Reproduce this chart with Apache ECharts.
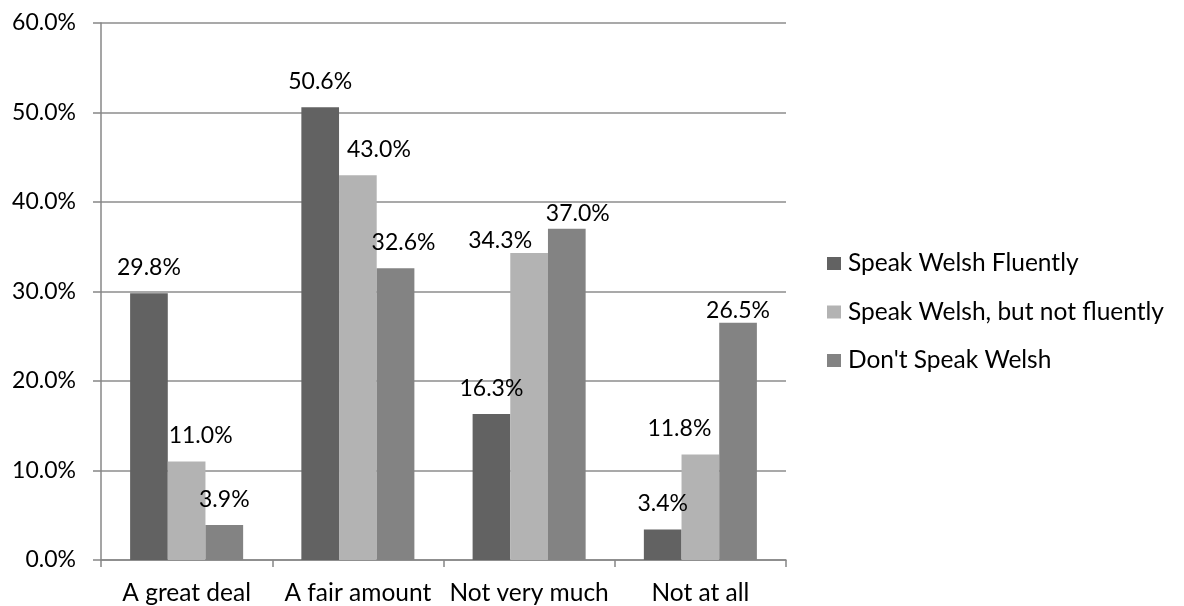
<!DOCTYPE html>
<html>
<head>
<meta charset="utf-8">
<title>Speaking Welsh</title>
<script src="https://cdn.jsdelivr.net/npm/echarts@6/dist/echarts.min.js"></script>
<style>
  html, body { margin: 0; padding: 0; background: #ffffff; }
  #chart { width: 1184px; height: 606px; }
</style>
</head>
<body>
<div id="chart"></div>
<script>
// Response categories along the x axis
const categories = ['A great deal', 'A fair amount', 'Not very much', 'Not at all'];

// Series names and their percentages
const seriesNames = ['Speak Welsh Fluently', 'Speak Welsh, but not fluently', "Don't Speak Welsh"];
const fluent = [29.8, 50.6, 16.3, 3.4];
const notFluent = [11.0, 43.0, 34.3, 11.8];
const noWelsh = [3.9, 32.6, 37.0, 26.5];

// Value axis range
const yMin = 0;
const yMax = 60;
const yStep = 10;

const FONT = 'Lato';
const NUM_SIZE = 23;   // numbers: tick and value labels
const TEXT_SIZE = 24.5; // words: categories and legend
const colors = ['#626262', '#b3b3b3', '#838383'];

// Hand-placed label nudges (pixels) so labels don't collide with neighbouring bars
const labelNudge = [
  [[0, 0], [0, 0], [0, 0], [0, 0]],
  [[14, 0], [21, 0], [-29, 13], [-21, 0]],
  [[0, 0], [8, 0], [11, 10], [0, 13]]
];

const seriesValues = [fluent, notFluent, noWelsh];

const series = seriesValues.map((vals, s) => ({
  name: seriesNames[s],
  type: 'bar',
  barGap: '0%',
  barCategoryGap: '34%',
  itemStyle: { color: colors[s] },
  emphasis: { disabled: true },
  label: {
    show: true,
    position: 'top',
    distance: 14,
    color: '#000000',
    fontFamily: FONT,
    fontSize: NUM_SIZE,
    formatter: p => p.value.toFixed(1) + '%'
  },
  data: vals.map((v, i) => ({
    value: v,
    label: { offset: labelNudge[s][i] }
  }))
}));

const chart = echarts.init(document.getElementById('chart'), null, { renderer: 'canvas' });

chart.setOption({
  animation: false,
  backgroundColor: '#ffffff',
  grid: { left: 101, right: 398, top: 23, bottom: 46, containLabel: false },
  legend: {
    orient: 'vertical',
    left: 822,
    top: 246,
    icon: 'rect',
    itemWidth: 14,
    itemHeight: 13,
    itemGap: 23.5,
    textStyle: { fontFamily: FONT, fontSize: TEXT_SIZE, color: '#000000', lineHeight: 24, padding: [0, 0, 0, 2] },
    data: seriesNames
  },
  xAxis: {
    type: 'category',
    data: categories,
    axisLine: { show: true, lineStyle: { color: '#878787', width: 1.5 } },
    axisTick: { show: true, alignWithLabel: false, length: 7, lineStyle: { color: '#878787', width: 1.5 } },
    axisLabel: { fontFamily: FONT, fontSize: TEXT_SIZE, color: '#000000', margin: 21, interval: 0 },
    splitLine: { show: false }
  },
  yAxis: {
    type: 'value',
    min: yMin,
    max: yMax,
    interval: yStep,
    axisLine: { show: true, lineStyle: { color: '#878787', width: 1.5 } },
    axisTick: { show: true, length: 8, lineStyle: { color: '#878787', width: 1.5 } },
    axisLabel: {
      fontFamily: FONT,
      fontSize: NUM_SIZE,
      color: '#000000',
      margin: 25,
      formatter: v => v.toFixed(1) + '%'
    },
    splitLine: { show: true, lineStyle: { color: '#8c8c8c', width: 1.5 } }
  },
  series: series
});
</script>
</body>
</html>
